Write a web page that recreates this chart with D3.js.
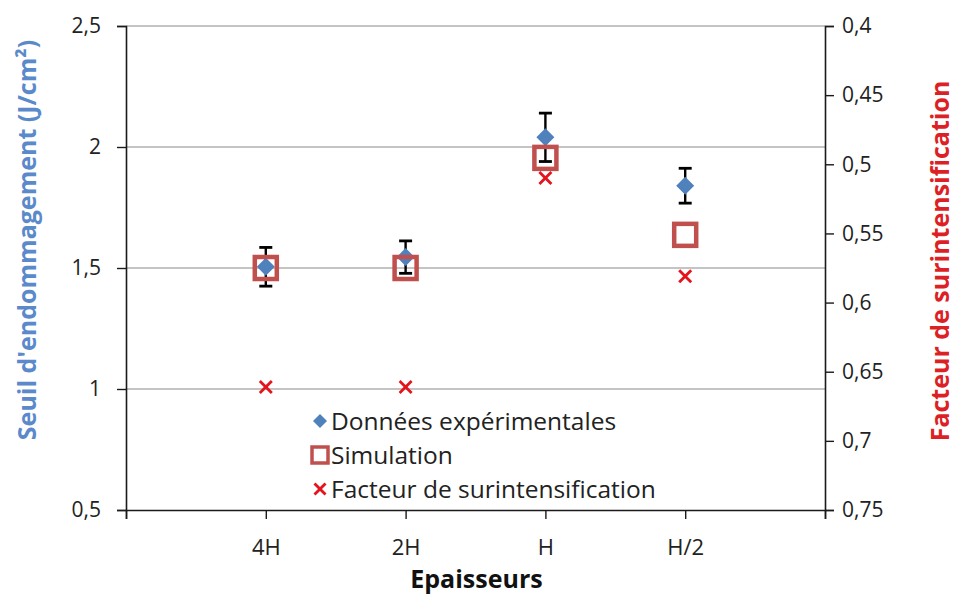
<!DOCTYPE html>
<html>
<head>
<meta charset="utf-8">
<script src="https://cdn.jsdelivr.net/npm/d3@7"></script>
<style>
  body { margin: 0; background: #fff; }
  text { font-family: "Open Sans", sans-serif; }
</style>
</head>
<body>
<script>
var categories = ["4H", "2H", "H", "H/2"];
var experimental = [1.505, 1.545, 2.04, 1.84];
var experimentalErr = [0.08, 0.067, 0.1, 0.072];
var simulation = [1.5, 1.5, 1.955, 1.637];
var facteur = [0.661, 0.661, 0.51, 0.581];
var leftTicks = [0.5, 1, 1.5, 2, 2.5];
var rightTicks = [0.4, 0.45, 0.5, 0.55, 0.6, 0.65, 0.7, 0.75];
var legendLabels = ["Données expérimentales", "Simulation", "Facteur de surintensification"];

var width = 957, height = 594;
var margin = {left: 126, right: 132, top: 26, bottom: 84};
var innerW = width - margin.left - margin.right;
var innerH = height - margin.top - margin.bottom;

var blue = "#4F81BD", simRed = "#C0504D", xRed = "#E3141B";
var fmt = function (d) { return String(d).replace(".", ","); };

var svg = d3.select("body").append("svg")
    .attr("width", width).attr("height", height);
var g = svg.append("g").attr("transform", "translate(" + margin.left + "," + margin.top + ")");

var xScale = d3.scaleLinear().domain([0, categories.length + 1]).range([0, innerW]);
var yLeft = d3.scaleLinear().domain([0.5, 2.5]).range([innerH, 0]);
var yRight = d3.scaleLinear().domain([0.4, 0.75]).range([0, innerH]);

// gridlines
g.append("g").selectAll("line")
    .data(leftTicks.filter(function (d) { return d > 0.5; }))
    .enter().append("line")
    .attr("x1", 0).attr("x2", innerW)
    .attr("y1", function (d) { return yLeft(d); })
    .attr("y2", function (d) { return yLeft(d); })
    .attr("stroke", "#8a8a8a").attr("stroke-width", 1.2);

// left axis
var yAxisL = d3.axisLeft(yLeft).tickValues(leftTicks).tickFormat(fmt).tickSize(9).tickPadding(16);
var gl = g.append("g").call(yAxisL);

// right axis
var yAxisR = d3.axisRight(yRight).tickValues(rightTicks).tickFormat(fmt).tickSize(9).tickPadding(8);
var gr = g.append("g").attr("transform", "translate(" + innerW + ",0)").call(yAxisR);

// x axis
var xAxis = d3.axisBottom(xScale)
    .tickValues([0, 1, 2, 3, 4, 5])
    .tickFormat(function (d) { return categories[d - 1] || ""; })
    .tickSize(9).tickPadding(20);
var gx = g.append("g").attr("transform", "translate(0," + innerH + ")").call(xAxis);

[gl, gr, gx].forEach(function (a) {
    a.select(".domain").attr("stroke", "#1a1a1a").attr("stroke-width", 1.6);
    a.selectAll(".tick line").attr("stroke", "#1a1a1a").attr("stroke-width", 1.4);
    a.selectAll(".tick text").attr("fill", "#222").style("font-size", "21px")
        .style("font-family", "'Open Sans', sans-serif");
});
gx.selectAll(".tick text").style("font-size", "22px");

// error bars
var eb = g.append("g").attr("stroke", "#000");
experimental.forEach(function (v, i) {
    var x = xScale(i + 1), e = experimentalErr[i];
    eb.append("line").attr("x1", x).attr("x2", x)
        .attr("y1", yLeft(v + e)).attr("y2", yLeft(v - e))
        .attr("stroke-width", 2.4);
    [v + e, v - e].forEach(function (c) {
        eb.append("line").attr("x1", x - 6.5).attr("x2", x + 6.5)
            .attr("y1", yLeft(c)).attr("y2", yLeft(c))
            .attr("stroke-width", 2.8);
    });
});

// rotated-square diamond
function diamondPath(r) {
    return "M0," + (-r) + "L" + r + ",0L0," + r + "L" + (-r) + ",0Z";
}

// experimental diamonds
g.append("g").selectAll("path")
    .data(experimental).enter().append("path")
    .attr("d", diamondPath(9))
    .attr("transform", function (d, i) { return "translate(" + xScale(i + 1) + "," + yLeft(d) + ")"; })
    .attr("fill", blue);

// simulation squares
g.append("g").selectAll("rect")
    .data(simulation).enter().append("rect")
    .attr("x", function (d, i) { return xScale(i + 1) - 11; })
    .attr("y", function (d) { return yLeft(d) - 11; })
    .attr("width", 22).attr("height", 22)
    .attr("fill", "none").attr("stroke", simRed).attr("stroke-width", 4.5);

// facteur crosses
function cross(sel, s) {
    var c = sel.append("g").attr("stroke", xRed).attr("stroke-width", 2.8);
    c.append("line").attr("x1", -s).attr("y1", -s).attr("x2", s).attr("y2", s);
    c.append("line").attr("x1", -s).attr("y1", s).attr("x2", s).attr("y2", -s);
}
g.append("g").selectAll("g")
    .data(facteur).enter().append("g")
    .attr("transform", function (d, i) { return "translate(" + xScale(i + 1) + "," + yRight(d) + ")"; })
    .each(function () { cross(d3.select(this), 6); });

// legend
var legend = svg.append("g").attr("transform", "translate(320,421)");
legendLabels.forEach(function (lab, i) {
    var row = legend.append("g").attr("transform", "translate(0," + (i * 34) + ")");
    if (i === 0) row.append("path").attr("d", diamondPath(7)).attr("fill", blue);
    if (i === 1) row.append("rect").attr("x", -8).attr("y", -8).attr("width", 16).attr("height", 16)
        .attr("fill", "none").attr("stroke", simRed).attr("stroke-width", 3.5);
    if (i === 2) cross(row, 5.5);
    row.append("text").attr("x", 11).attr("y", 0).attr("dy", "0.35em")
        .style("font-size", "24.5px").attr("fill", "#222").text(lab);
});

// axis titles
svg.append("text")
    .attr("transform", "translate(36,240) rotate(-90)")
    .attr("text-anchor", "middle")
    .style("font-size", "25px").style("font-weight", "bold").attr("fill", "#5B8ACB")
    .text("Seuil d'endommagement (J/cm²)");

svg.append("text")
    .attr("transform", "translate(949,261) rotate(-90)")
    .attr("text-anchor", "middle")
    .style("font-size", "25px").style("font-weight", "bold").attr("fill", "#DD1F26")
    .text("Facteur de surintensification");

svg.append("text")
    .attr("x", margin.left + innerW / 2 + 1).attr("y", 588)
    .attr("text-anchor", "middle")
    .style("font-size", "25px").style("font-weight", "bold").attr("fill", "#111")
    .text("Epaisseurs");
</script>
</body>
</html>
